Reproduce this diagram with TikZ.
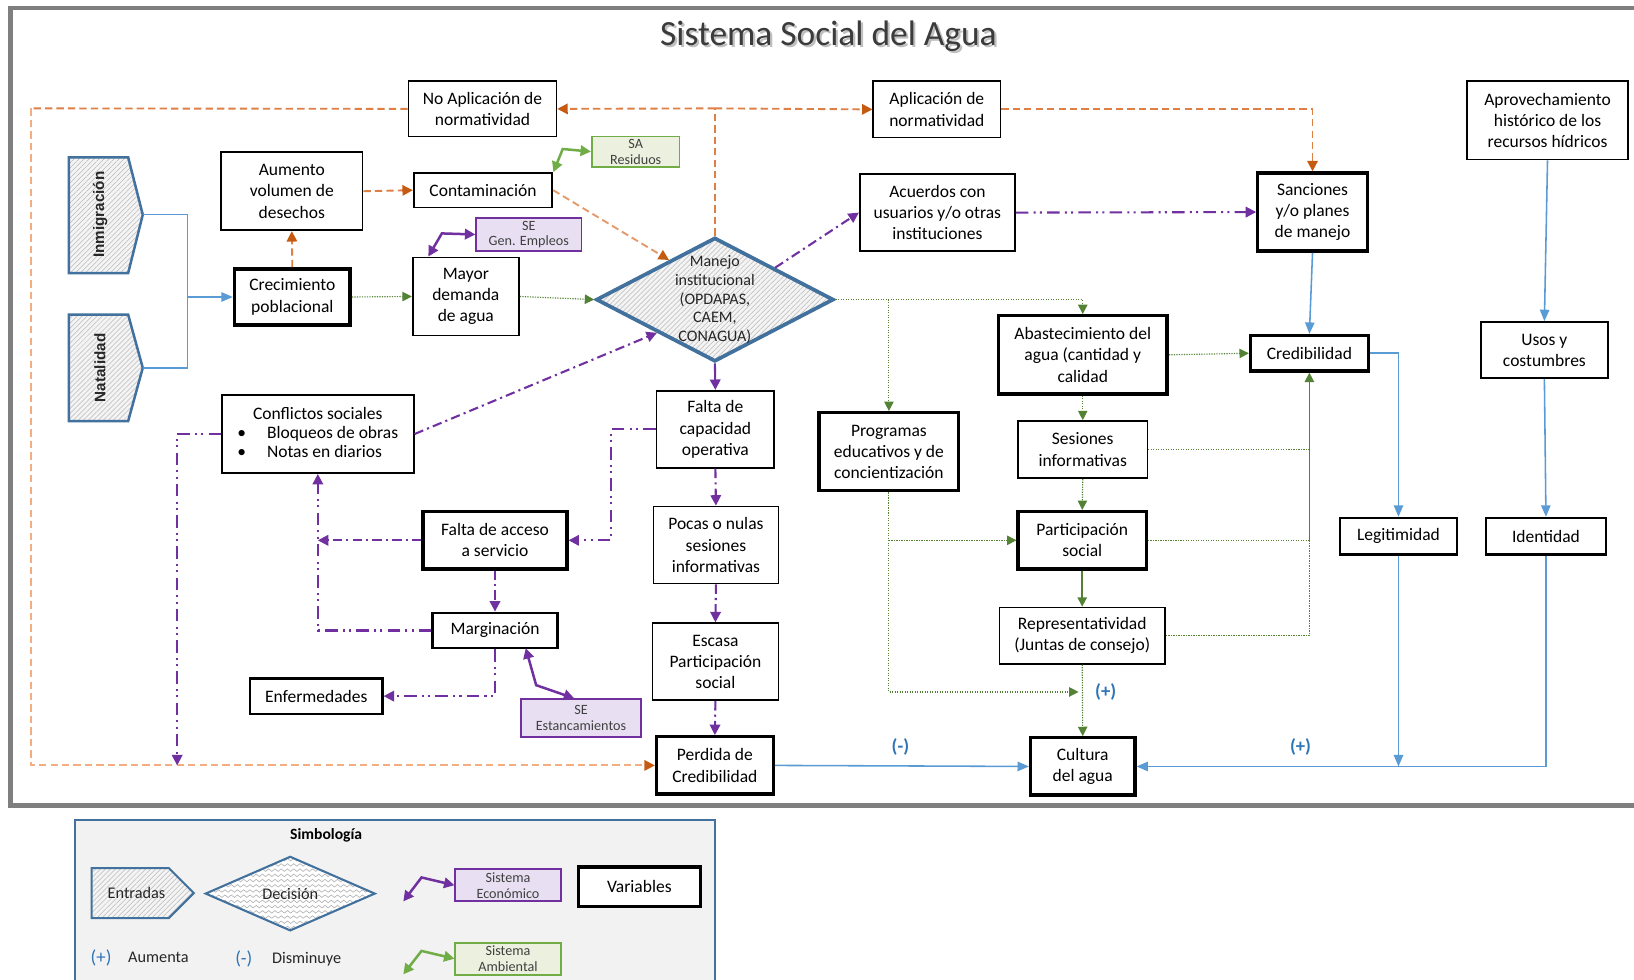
\documentclass[tikz,border=0pt]{standalone}
\usepackage{fontspec}
\setmainfont{Carlito}
\newfontfamily\entryfont{Liberation Sans}
\usetikzlibrary{arrows.meta,calc,shapes.geometric,patterns.meta,decorations.pathmorphing}

\definecolor{framegray}{HTML}{7F7F7F}
\definecolor{shapeblue}{HTML}{41719C}
\definecolor{lineblue}{HTML}{5B9BD5}
\definecolor{labelblue}{HTML}{2E75B6}
\definecolor{orDark}{HTML}{C55A11}
\definecolor{orMid}{HTML}{DE7F45}
\definecolor{orLight}{HTML}{F2AE80}
\definecolor{grn}{HTML}{548235}
\definecolor{purp}{HTML}{7030A0}
\definecolor{purpfill}{HTML}{E8E0F2}
\definecolor{envgreen}{HTML}{70AD47}
\definecolor{envfill}{HTML}{EBF1DE}
\definecolor{hatchbg}{HTML}{F4F4F4}
\definecolor{legendbg}{HTML}{F2F2F2}
\definecolor{titlegray}{HTML}{3B3B3B}

\begin{document}
\begin{tikzpicture}[x=0.5pt,y=-0.5pt,
  sz/.style n args={2}{minimum width=#1*0.5pt,minimum height=#2*0.5pt},
  box/.style={draw=black,fill=white,align=center,inner sep=0pt,
    font=\fontsize{8.4}{10.2}\selectfont,line width=0.8pt},
  boldbox/.style={box,line width=1.6pt},
  ecobox/.style={draw=purp,fill=purpfill,line width=0.9pt,align=center,inner sep=0pt,
    text=black!75,font=\fontsize{6.8}{7.6}\selectfont},
  envbox/.style={draw=envgreen,fill=envfill,line width=0.9pt,align=center,inner sep=0pt,
    text=black!75,font=\fontsize{6.8}{7.6}\selectfont},
  hatched/.style={draw=shapeblue,preaction={fill=hatchbg},
    pattern={Lines[angle=45,distance=1.7pt,line width=0.25pt]},pattern color=black!28},
  odash/.style={draw=orMid,line width=0.9pt,dash pattern=on 3.5pt off 2pt},
  olight/.style={draw=orLight,line width=0.9pt,dash pattern=on 3.5pt off 2pt},
  otip/.style={-{Triangle[length=5pt,width=5pt,color=orDark]}},
  gdot/.style={draw=grn,line width=0.55pt,dash pattern=on 0.6pt off 0.6pt},
  gtip/.style={-{Triangle[length=4.5pt,width=4.5pt,color=grn]}},
  pdd/.style={draw=purp,line width=1pt,dash pattern=on 4.5pt off 2pt on 1pt off 2pt},
  pddd/.style={draw=purp,line width=1pt,dash pattern=on 6pt off 2.5pt on 1pt off 2pt on 1pt off 2.5pt},
  ptip/.style={-{Triangle[length=5pt,width=5pt,color=purp]}},
  blin/.style={draw=lineblue,line width=0.75pt},
  btip/.style={-{Triangle[length=5.5pt,width=4.5pt,color=lineblue]}},
  sign/.style={text=labelblue,font=\fontsize{9}{10}\selectfont\bfseries},
  legtext/.style={font=\fontsize{7.8}{9}\selectfont,text=black!85}
]
\useasboundingbox (0,0) rectangle (1568,940);
\fill[white] (0,0) rectangle (1568,940);

% outer frame (runs past the right edge)
\draw[framegray,line width=2pt] (1600,8) -- (10,8) -- (10,773) -- (1600,773);

% title with a soft shadow
\node[text=black!25,font=\fontsize{17}{20}\selectfont] at (797,37) {Sistema Social del Agua};
\node[text=titlegray,font=\fontsize{17}{20}\selectfont] (title) at (795,35) {Sistema Social del Agua};

% ---------------- entries ----------------
\path[hatched,line width=1.2pt] (66,151) -- (123,151) -- (137,206) -- (123,262) -- (66,262) -- cycle;
\coordinate (inmtip) at (137,206);
\node[rotate=90,font=\entryfont\bfseries\fontsize{7.3}{8}\selectfont,text=black!85] (inm) at (96,206) {Inmigración};
\path[hatched,line width=1.2pt] (66,302) -- (123,302) -- (137,353) -- (123,404) -- (66,404) -- cycle;
\coordinate (nattip) at (137,353);
\node[rotate=90,font=\entryfont\bfseries\fontsize{7.3}{8}\selectfont,text=black!85] (nat) at (96,353) {Natalidad};

% ---------------- variables ----------------
\node[box,sz={142}{53}] (noap) at (463,104.5) {No Aplicación de\\normatividad};
\node[box,sz={122}{54}] (ap) at (899,105) {Aplicación de\\normatividad};
\node[box,sz={154}{75}] (aprov) at (1485,115.5) {Aprovechamiento\\histórico de los\\recursos hídricos};
\node[box,sz={136}{75}] (aum) at (280,183.5) {Aumento\\volumen de\\desechos};
\node[box,sz={133}{33}] (cont) at (463.5,182.5) {Contaminación};
\node[envbox,sz={84}{29}] (sares) at (610,145.5) {SA\\Residuos};
\node[ecobox,sz={101}{32}] (segen) at (507.5,225) {SE\\Gen. Empleos};
\node[box,sz={149}{74}] (acu) at (899.5,204) {Acuerdos con\\usuarios y/o otras\\instituciones};
\node[boldbox,sz={105}{75}] (sanc) at (1259.5,203.5) {Sanciones\\y/o planes\\de manejo};
\node[boldbox,sz={111}{54}] (crec) at (280.5,285) {Crecimiento\\poblacional};
\node[box,sz={102}{75}] (mayor) at (447,284.5) {Mayor\\demanda\\de agua};

\node[diamond,hatched,line width=1.8pt,minimum width=228*0.5pt,minimum height=119*0.5pt,inner sep=0pt] (mi) at (686,287.5) {};
\node[align=center,font=\fontsize{7.7}{9}\selectfont,text=black!85] (mitext) at (mi.center) {Manejo\\institucional\\(OPDAPAS,\\CAEM,\\CONAGUA)};

\node[boldbox,sz={162}{75}] (abas) at (1039,340.5) {Abastecimiento del\\agua (cantidad y\\calidad};
\node[boldbox,sz={113}{34}] (cred) at (1256.5,339) {Credibilidad};
\node[box,sz={122}{54}] (usos) at (1482,336) {Usos y\\costumbres};
\node[box,sz={184}{75}] (confl) at (305,416.5) {\begin{tabular}{@{}l@{}}\multicolumn{1}{@{}c@{}}{Conflictos sociales\hspace{10pt}}\\[-1pt]\textbullet\hspace{10pt}Bloqueos de obras\\[-1pt]\textbullet\hspace{10pt}Notas en diarios\end{tabular}};
\node[box,sz={113}{74}] (falcap) at (686.5,412) {Falta de\\capacidad\\operativa};
\node[boldbox,sz={134}{75}] (prog) at (853,433.5) {Programas\\educativos y de\\concientización};
\node[box,sz={124}{55}] (ses) at (1039,431.5) {Sesiones\\informativas};
\node[boldbox,sz={138}{55}] (falacc) at (475,518.5) {Falta de acceso\\a servicio};
\node[box,sz={120}{74}] (pocas) at (687,523) {Pocas o nulas\\sesiones\\informativas};
\node[boldbox,sz={123}{55}] (part) at (1038.5,518.5) {Participación\\social};
\node[box,line width=1.1pt,sz={112}{35}] (legit) at (1342,514.5) {Legitimidad};
\node[box,line width=1.1pt,sz={115}{35}] (ident) at (1483.5,514.5) {Identidad};
\node[box,line width=1.1pt,sz={120}{34}] (marg) at (475,605) {Marginación};
\node[box,sz={121}{74}] (escasa) at (686.5,635) {Escasa\\Participación\\social};
\node[box,sz={159}{54}] (repr) at (1038.5,610) {Representatividad\\(Juntas de consejo)};
\node[box,line width=1.1pt,sz={127}{34}] (enf) at (303.5,668) {Enfermedades};
\node[ecobox,sz={115}{36}] (seest) at (557.5,689) {SE\\Estancamientos};
\node[boldbox,sz={112}{55}] (perd) at (686,734.5) {Perdida de\\Credibilidad};
\node[boldbox,sz={100}{55}] (cult) at (1039,735.5) {Cultura\\del agua};

% ---------------- orange (normativity) connectors ----------------
\coordinate (ntop) at (686,104);
\draw[odash] (mi.north) -- (ntop);
\draw[odash,otip] (ntop) -- (noap.east);
\draw[odash,otip] (ntop) -- (ap.west);
\draw[odash,otip] (ap.east) -| (sanc.north);
\coordinate (looptop) at (30,104);
\coordinate (loopbot) at (30,734.5);
\draw[odash] (noap.west) -- (looptop);
\draw[olight,otip] (looptop) -- (loopbot) -- (perd.west);
\draw[odash,otip] (aum.east) -- (cont.west);
\draw[odash,otip] (crec.north) -- (aum.south);
\draw[odash,draw=orMid!80,otip] (cont.east) -- ($(mi.west)!0.62!(mi.north)$);

% ---------------- green (supply) connectors ----------------
\draw[gdot,gtip] (crec.east) -- (mayor.west);
\draw[gdot,gtip] (mayor.east) -- (mi.west);
\draw[gdot,gtip] (mi.east) -| (abas.north);
\draw[gdot,gtip] (prog.north |- mi.east) -- (prog.north);
\draw[gdot,gtip] (abas.east) -- (cred.west);
\draw[gdot,gtip] (abas.south) -- (ses.north);
\draw[gdot,gtip] (ses.south) -- (part.north);
\draw[grn,line width=0.7pt,gtip] (part.south) -- (repr.north);
\draw[gdot,gtip] (repr.south) -- (cult.north);
\draw[gdot] (ses.east) -- (cred.south |- ses.east);
\draw[gdot] (part.east) -- (cred.south |- part.east);
\draw[gdot] (repr.east) -| (cred.south |- part.east);
\draw[grn,line width=0.7pt,gtip] (cred.south |- part.east) -- (cred.south);
\coordinate (progjoin) at (1035,664);
\draw[gdot,gtip] (prog.south) |- (progjoin);
\draw[gdot,gtip] (prog.south |- part.west) -- (part.west);

% ---------------- purple (economic) connectors ----------------
\draw[pdd,ptip] ($(mi.north)!0.5!(mi.east)$) -- (acu.west);
\draw[pddd,ptip] (acu.east) -- (sanc.west);
\draw[purp,line width=1pt,ptip] (mi.south) -- (falcap.north);
\draw[pdd,ptip] (falcap.south) -- (pocas.north);
\draw[pdd,ptip] (pocas.south) -- (escasa.north);
\draw[pdd,ptip] (escasa.south) -- (perd.north);
\draw[pddd,ptip] (falcap.west) -- ++(-43,0) |- (falacc.east);
\draw[pdd,ptip] (falacc.west) -- (confl.south |- falacc.west);
\draw[pddd,ptip] (marg.west) -| (confl.south);
\draw[pdd,ptip] (falacc.south) -- (marg.north);
\draw[pddd,ptip] (marg.south) |- (enf.east);
\draw[pdd,ptip] (confl.east) -- ($(mi.west)!0.52!(mi.south)$);
\coordinate (confldown) at (170,734.5);
\draw[pddd,ptip] (confl.west) -| (confldown);

% links to the economic and environmental systems
\draw[purp,line width=1.2pt,{Triangle[length=5pt,width=5pt]}-{Triangle[length=5pt,width=5pt]}]
  (504.5,622) -- (514.5,657.5) -- (seest.north -| 551,0);
\draw[purp,line width=1.2pt,{Triangle[length=5pt,width=5pt]}-{Triangle[length=5pt,width=5pt]}]
  (mayor.north -| 411,0) -- (424,224) -- (segen.west);
\draw[envgreen,line width=1.2pt,{Triangle[length=5pt,width=5pt]}-{Triangle[length=5pt,width=5pt]}]
  (cont.north -| 531,0) -- (540,143) -- (sares.west);

% ---------------- blue (culture) connectors ----------------
\coordinate (popjoin) at (180,285);
\draw[blin] (inmtip) -| (popjoin);
\draw[blin] (nattip) -| (popjoin);
\draw[blin,btip] (popjoin) -- (crec.west);
\draw[blin,btip] (sanc.south) -- (cred.north);
\draw[blin,btip] (cred.east) -| (legit.north);
\draw[blin,btip] (legit.south) -- (legit.south |- cult.east);
\draw[blin,btip] (aprov.south) -- (usos.north);
\draw[blin,btip] (usos.south) -- (ident.north);
\draw[blin,btip] (ident.south) |- (cult.east);
\draw[blin,btip] (perd.east) -- (cult.west);

\node[sign] (minus) at (864,717) {(-)};
\node[sign] (plusr) at (1248,717) {(+)};
\node[sign] (plusc) at (1061,664) {(+)};

% ---------------- legend ----------------
\draw[shapeblue,line width=0.8pt,fill=legendbg] (72,946) -- (72,787) -- (686,787) -- (686,946);
\node[font=\fontsize{7.5}{9}\selectfont\bfseries] (simb) at (313,802) {Simbología};
\path[hatched,line width=1pt] (88,833) -- (162,833) -- (186,857) -- (162,881) -- (88,881) -- cycle;
\node[legtext] (lent) at (131,857) {Entradas};
\begin{scope}
  \clip (197,857.5) -- (278,821.5) -- (360,857.5) -- (278,893) -- cycle;
  \fill[white] (190,815) rectangle (365,900);
  \foreach \yy in {820,825,...,900}
    \draw[black!30,line width=0.3pt,decorate,decoration={snake,amplitude=0.6pt,segment length=3pt}] (190,\yy) -- (370,\yy);
\end{scope}
\node[diamond,draw=shapeblue,line width=1pt,minimum width=163*0.5pt,minimum height=71.5*0.5pt,inner sep=0pt] (ldec) at (278.5,857.5) {};
\node[legtext] at (ldec.center) {Decisión};
\node[ecobox,sz={101}{31}] (leco) at (487.5,849.5) {Sistema\\Económico};
\node[envbox,sz={101}{31}] (lenv) at (487.5,920) {Sistema\\Ambiental};
\draw[purp,line width=1.2pt,{Triangle[length=5pt,width=5pt]}-{Triangle[length=5pt,width=5pt]}]
  (387,865) -- (404.5,842) -- (leco.west);
\draw[envgreen,line width=1.2pt,{Triangle[length=5pt,width=5pt]}-{Triangle[length=5pt,width=5pt]}]
  (387,935) -- (404.5,912.5) -- (lenv.west);
\node[boldbox,sz={117}{38}] (lvar) at (613.5,851) {Variables};
\node[sign,font=\fontsize{9}{10}\selectfont] (lplus) at (97,919) {(+)};
\node[legtext,anchor=west] (lplust) at (116,919) {Aumenta};
\node[sign,font=\fontsize{9}{10}\selectfont] (lminus) at (234,920) {(-)};
\node[legtext,anchor=west] (lminust) at (254,920) {Disminuye};
\end{tikzpicture}
\end{document}
